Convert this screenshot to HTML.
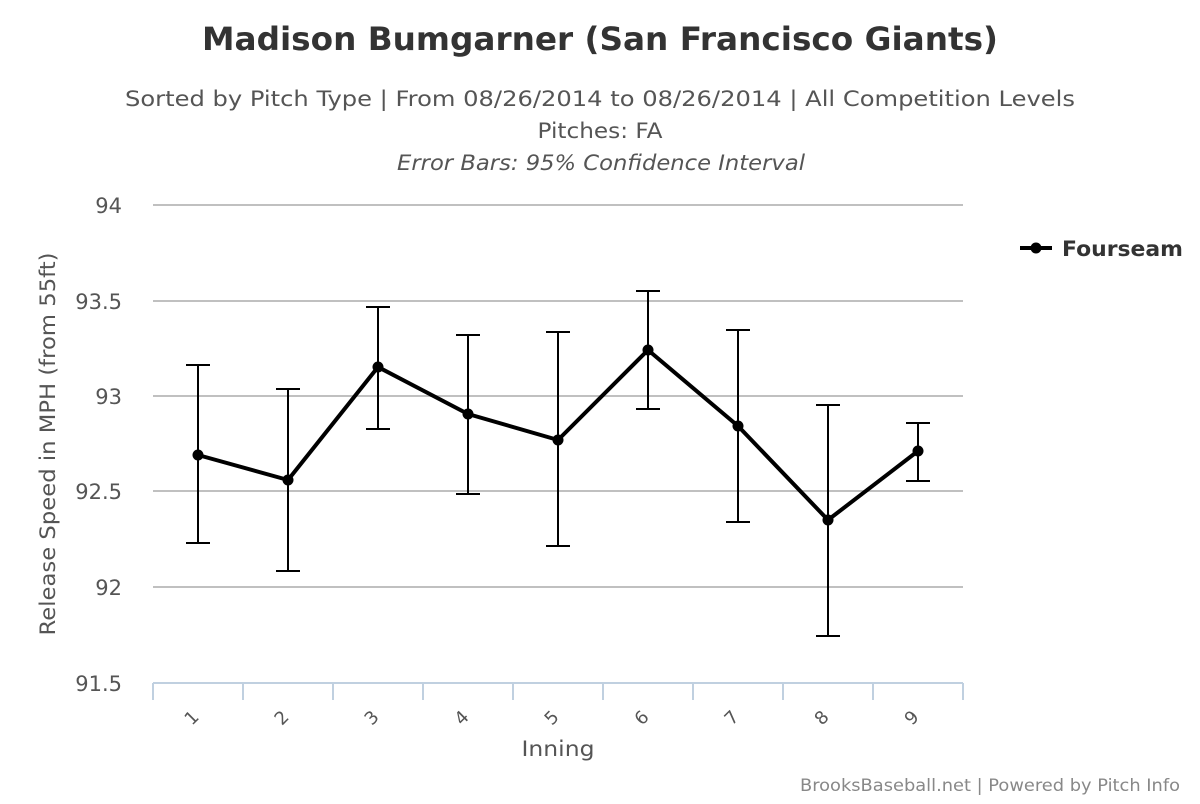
<!DOCTYPE html>
<html><head><meta charset="utf-8"><style>
body{margin:0;background:#fff;font-family:"DejaVu Sans",sans-serif;}
</style></head><body>
<svg width="1200" height="800" xmlns="http://www.w3.org/2000/svg" font-family="DejaVu Sans, sans-serif">
<rect width="1200" height="800" fill="#fff"/>
<text x="600" y="50" text-anchor="middle" font-size="32" font-weight="bold" fill="#333" textLength="796" lengthAdjust="spacingAndGlyphs">Madison Bumgarner (San Francisco Giants)</text>
<text x="600" y="106" text-anchor="middle" font-size="21" fill="#555" textLength="950" lengthAdjust="spacingAndGlyphs">Sorted by Pitch Type | From 08/26/2014 to 08/26/2014 | All Competition Levels</text>
<text x="600" y="138" text-anchor="middle" font-size="21" fill="#555" textLength="125" lengthAdjust="spacingAndGlyphs">Pitches: FA</text>
<text x="601" y="170" text-anchor="middle" font-size="21" font-style="italic" fill="#555" textLength="408" lengthAdjust="spacingAndGlyphs">Error Bars: 95% Confidence Interval</text>
<g stroke="#c0c0c0" stroke-width="2">
<line x1="153" y1="205" x2="963" y2="205"/>
<line x1="153" y1="301" x2="963" y2="301"/>
<line x1="153" y1="396" x2="963" y2="396"/>
<line x1="153" y1="491" x2="963" y2="491"/>
<line x1="153" y1="587" x2="963" y2="587"/>
</g>
<g stroke="#c0d0e0" stroke-width="2">
<line x1="153" y1="683" x2="963" y2="683"/>
<line x1="153" y1="683" x2="153" y2="700"/><line x1="243" y1="683" x2="243" y2="700"/><line x1="333" y1="683" x2="333" y2="700"/><line x1="423" y1="683" x2="423" y2="700"/><line x1="513" y1="683" x2="513" y2="700"/><line x1="603" y1="683" x2="603" y2="700"/><line x1="693" y1="683" x2="693" y2="700"/><line x1="783" y1="683" x2="783" y2="700"/><line x1="873" y1="683" x2="873" y2="700"/><line x1="963" y1="683" x2="963" y2="700"/>
</g>
<g font-size="21" fill="#555" text-anchor="end">
<text x="122" y="213">94</text><text x="122" y="309">93.5</text><text x="122" y="404">93</text><text x="122" y="499">92.5</text><text x="122" y="595">92</text><text x="122" y="691">91.5</text>
</g>
<g font-size="18" fill="#555" text-anchor="end">
<text transform="translate(200,718) rotate(-45)">1</text><text transform="translate(290,718) rotate(-45)">2</text><text transform="translate(380,718) rotate(-45)">3</text><text transform="translate(470,718) rotate(-45)">4</text><text transform="translate(560,718) rotate(-45)">5</text><text transform="translate(650,718) rotate(-45)">6</text><text transform="translate(740,718) rotate(-45)">7</text><text transform="translate(830,718) rotate(-45)">8</text><text transform="translate(920,718) rotate(-45)">9</text>
</g>
<text x="558" y="756" text-anchor="middle" font-size="21" fill="#555" textLength="73" lengthAdjust="spacingAndGlyphs">Inning</text>
<text transform="translate(55,444) rotate(-90)" text-anchor="middle" font-size="21" fill="#555" textLength="383" lengthAdjust="spacingAndGlyphs">Release Speed in MPH (from 55ft)</text>
<g stroke="#000" stroke-width="2" fill="none">
<path d="M198 365V543M186 365H210M186 543H210"/>
<path d="M288 389V571M276 389H300M276 571H300"/>
<path d="M378 307V429M366 307H390M366 429H390"/>
<path d="M468 335V494M456 335H480M456 494H480"/>
<path d="M558 332V546M546 332H570M546 546H570"/>
<path d="M648 291V409M636 291H660M636 409H660"/>
<path d="M738 330V522M726 330H750M726 522H750"/>
<path d="M828 405V636M816 405H840M816 636H840"/>
<path d="M918 423V481M906 423H930M906 481H930"/>
</g>
<polyline points="198,455 288,480 378,367 468,414 558,440 648,350 738,426 828,520 918,451" fill="none" stroke="#000" stroke-width="4" stroke-linejoin="round"/>
<g fill="#000">
<circle cx="198" cy="455" r="5.5"/><circle cx="288" cy="480" r="5.5"/><circle cx="378" cy="367" r="5.5"/><circle cx="468" cy="414" r="5.5"/><circle cx="558" cy="440" r="5.5"/><circle cx="648" cy="350" r="5.5"/><circle cx="738" cy="426" r="5.5"/><circle cx="828" cy="520" r="5.5"/><circle cx="918" cy="451" r="5.5"/>
</g>
<line x1="1020" y1="248" x2="1052" y2="248" stroke="#000" stroke-width="4"/>
<circle cx="1036" cy="248" r="5.5" fill="#000"/>
<text x="1062" y="256" font-size="21" font-weight="bold" fill="#333" textLength="121" lengthAdjust="spacingAndGlyphs">Fourseam</text>
<text x="1180" y="791" text-anchor="end" font-size="17" fill="#888" textLength="380" lengthAdjust="spacingAndGlyphs">BrooksBaseball.net | Powered by Pitch Info</text>
</svg>
</body></html>
